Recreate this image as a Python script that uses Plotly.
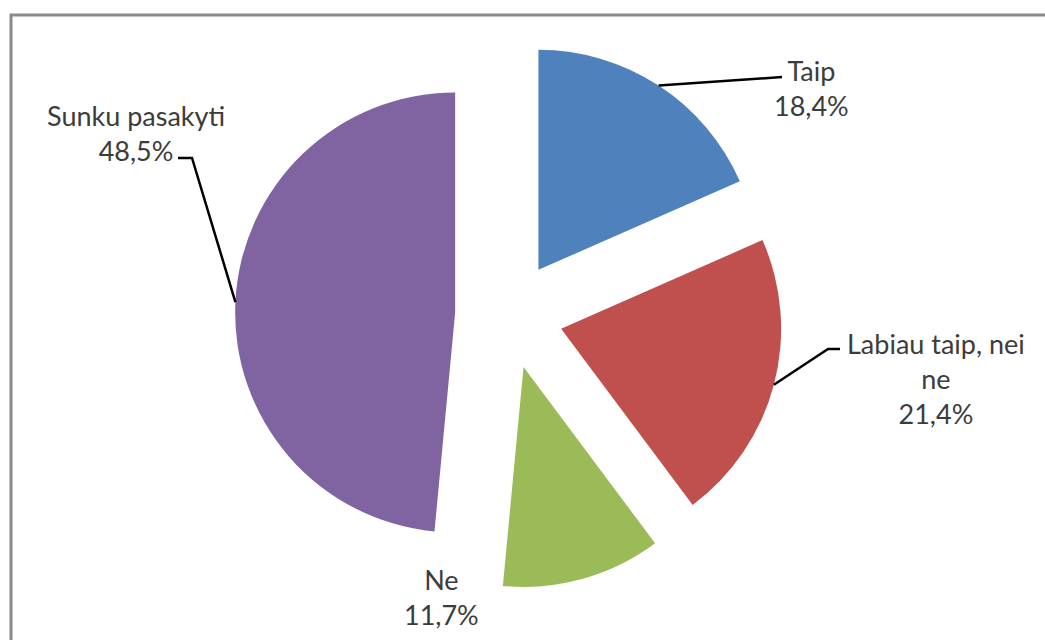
import numpy as np
import plotly.graph_objects as go

# ---- data ----
categories = ["Taip", "Labiau taip, nei ne", "Ne", "Sunku pasakyti"]
display_labels = ["Taip", "Labiau taip, nei<br>ne", "Ne", "Sunku pasakyti"]
values = [18.4, 21.4, 11.7, 48.5]
colors = ["#4F81BD", "#C0504D", "#9BBB59", "#8064A2"]

# ---- layout constants (pixels) ----
W, H = 1045, 640
CX, CY, R, PULL = 509, 315, 220, 0.245
half = R * (1 + PULL)
domain_x = [(CX - half) / W, (CX + half) / W]
domain_y = [1 - (CY + half) / H, 1 - (CY - half) / H]

# label block centres and leader elbow points (pixels); None = no leader
label_pos = [(811, 88), (936, 378), (441, 597), (136, 133)]
leader_elbows = [[(782, 77)], [(828, 349), (840, 349)], None, [(192, 158), (178, 158)]]

FONT = "Lato, 'Open Sans', sans-serif"
TXT = "#3c3c3c"


def px(x, y):
    return x / W, 1 - y / H


fig = go.Figure()
fig.add_trace(go.Pie(
    labels=categories,
    values=values,
    sort=False,
    direction="clockwise",
    rotation=0,
    pull=[PULL] * len(values),
    marker=dict(colors=colors, line=dict(width=0)),
    textinfo="none",
    hoverinfo="label+percent",
    showlegend=False,
    domain=dict(x=domain_x, y=domain_y),
))

total = sum(values)
cum = 0.0
shapes = []
annotations = []
for i, v in enumerate(values):
    theta = 2 * np.pi * (cum + v / 2) / total
    cum += v
    ux, uy = np.sin(theta), -np.cos(theta)
    # slice apex after pull, then arc point at mid angle
    ax = CX + PULL * R * ux + R * ux
    ay = CY + PULL * R * uy + R * uy
    pct = f"{v:.1f}".replace(".", ",") + "%"
    lx, ly = label_pos[i]
    annotations.append(dict(
        x=lx / W, y=1 - ly / H, xref="paper", yref="paper",
        text=display_labels[i] + "<br>" + pct, showarrow=False,
        xanchor="center", yanchor="middle", align="center",
        font=dict(family=FONT, size=27, color=TXT),
    ))
    if leader_elbows[i]:
        pts = [(ax, ay)] + leader_elbows[i]
        path = "M " + " L ".join(f"{px(x, y)[0]},{px(x, y)[1]}" for x, y in pts)
        shapes.append(dict(type="path", path=path, xref="paper", yref="paper",
                           line=dict(color="#000000", width=2.5)))

# outer frame (top and left edges visible)
shapes.append(dict(type="rect", xref="paper", yref="paper",
                   x0=11 / W, y0=-0.1, x1=1.1, y1=1 - 15 / H,
                   line=dict(color="#8a8a8a", width=3), layer="below"))

fig.update_layout(
    width=W, height=H,
    margin=dict(l=0, r=0, t=0, b=0),
    paper_bgcolor="white", plot_bgcolor="white",
    shapes=shapes, annotations=annotations,
    showlegend=False,
)

fig.write_html("out.html")
